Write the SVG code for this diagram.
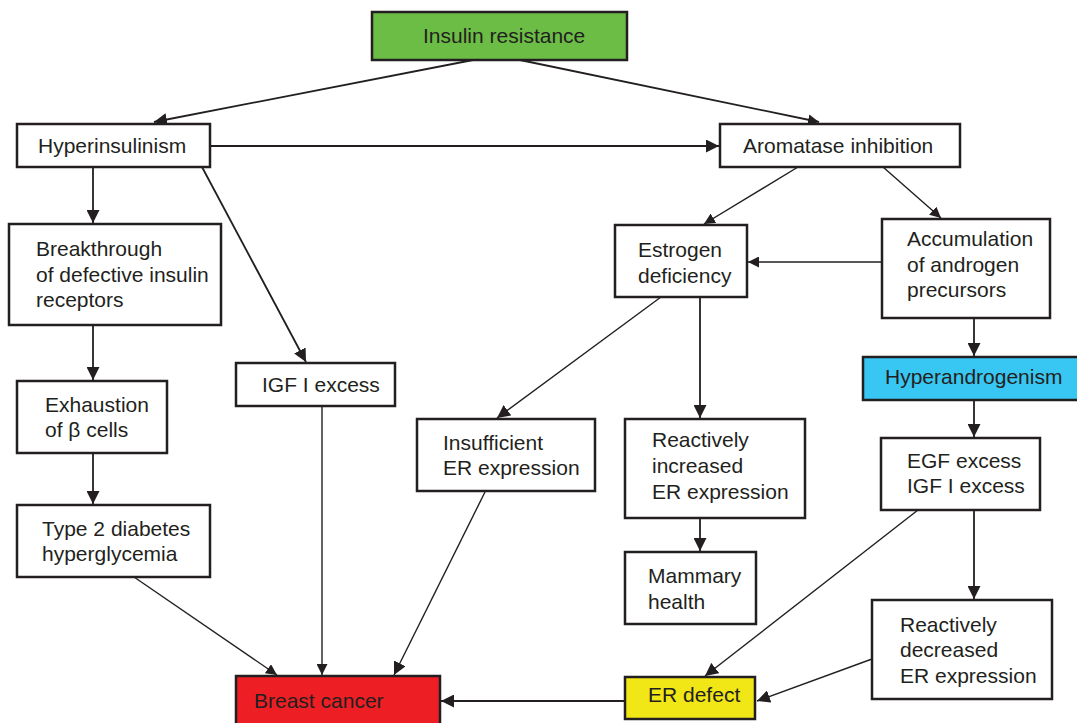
<svg xmlns="http://www.w3.org/2000/svg" width="1077" height="723" viewBox="0 0 1077 723">
<style>
.b{fill:#ffffff;stroke:#231f20;stroke-width:2.5}
.t{font-family:"Liberation Sans",Arial,sans-serif;font-size:21px;fill:#231f20}
.c{fill:none;stroke:#231f20;stroke-width:1.8}
.c2{fill:none;stroke:#231f20;stroke-width:1.4}
</style>
<defs>
<marker id="ah" markerUnits="userSpaceOnUse" markerWidth="13" markerHeight="13" refX="13" refY="6.5" orient="auto" viewBox="0 0 13 13">
<path d="M0,0 L13,6.5 L0,13 z" fill="#231f20"/>
</marker>
<marker id="as" markerUnits="userSpaceOnUse" markerWidth="11" markerHeight="11" refX="11" refY="5.5" orient="auto" viewBox="0 0 11 11">
<path d="M0,0 L11,5.5 L0,11 z" fill="#231f20"/>
</marker>
</defs>
<rect width="1077" height="723" fill="#ffffff"/>
<g id="connectors">
<line class="c" x1="473" y1="60" x2="154" y2="122" marker-end="url(#ah)"/>
<line class="c" x1="520" y1="60" x2="819" y2="122" marker-end="url(#as)"/>
<line class="c" x1="210" y1="146" x2="719" y2="146" marker-end="url(#ah)"/>
<line class="c" x1="93" y1="167" x2="93" y2="223" marker-end="url(#ah)"/>
<line class="c" x1="202" y1="167" x2="306" y2="362" marker-end="url(#ah)"/>
<line class="c2" x1="798" y1="167" x2="704" y2="224" marker-end="url(#as)"/>
<line class="c2" x1="883" y1="167" x2="941" y2="218" marker-end="url(#as)"/>
<line class="c2" x1="882" y1="262" x2="748" y2="262" marker-end="url(#as)"/>
<line class="c" x1="974" y1="318" x2="974" y2="356" marker-end="url(#ah)"/>
<line class="c" x1="93" y1="325" x2="93" y2="380" marker-end="url(#ah)"/>
<line class="c" x1="93" y1="453" x2="93" y2="504" marker-end="url(#ah)"/>
<line class="c2" x1="661" y1="297" x2="497" y2="418" marker-end="url(#ah)"/>
<line class="c" x1="700" y1="297" x2="700" y2="418" marker-end="url(#ah)"/>
<line class="c" x1="974" y1="400" x2="974" y2="437" marker-end="url(#ah)"/>
<line class="c2" x1="322" y1="406" x2="322" y2="675" marker-end="url(#as)"/>
<line class="c2" x1="485" y1="492" x2="394" y2="675" marker-end="url(#ah)"/>
<line class="c" x1="700" y1="518" x2="700" y2="551" marker-end="url(#ah)"/>
<line class="c" x1="974" y1="510" x2="974" y2="599" marker-end="url(#ah)"/>
<line class="c2" x1="918" y1="510" x2="705" y2="676" marker-end="url(#ah)"/>
<line class="c2" x1="134" y1="577" x2="277" y2="675" marker-end="url(#as)"/>
<line class="c2" x1="872" y1="659" x2="757" y2="701" marker-end="url(#ah)"/>
<line class="c" x1="625" y1="701" x2="441" y2="701" marker-end="url(#ah)"/>
</g>
<g id="insulin-resistance"><rect class="b" x="372" y="12" width="255" height="48" fill="#6cbd45" style="fill:#6cbd45"/><text class="t" x="423" y="43">Insulin resistance</text></g>
<g id="hyperinsulinism"><rect class="b" x="17" y="124" width="193" height="43"/><text class="t" x="38" y="153">Hyperinsulinism</text></g>
<g id="aromatase"><rect class="b" x="720" y="124" width="240" height="43"/><text class="t" x="743" y="153">Aromatase inhibition</text></g>
<g id="breakthrough"><rect class="b" x="9" y="224" width="212" height="101"/><text class="t" x="36" y="256">Breakthrough</text><text class="t" x="36" y="282">of defective insulin</text><text class="t" x="36" y="307">receptors</text></g>
<g id="estrogen"><rect class="b" x="615" y="225" width="132" height="72"/><text class="t" x="638" y="257">Estrogen</text><text class="t" x="638" y="283">deficiency</text></g>
<g id="accumulation"><rect class="b" x="882" y="219" width="168" height="99"/><text class="t" x="907" y="246">Accumulation</text><text class="t" x="907" y="272">of androgen</text><text class="t" x="907" y="297">precursors</text></g>
<g id="igf"><rect class="b" x="236" y="363" width="159" height="43"/><text class="t" x="262" y="392">IGF I excess</text></g>
<g id="hyperandrogenism"><rect class="b" x="863" y="357" width="216" height="43" style="fill:#38c6f2"/><text class="t" x="885" y="384">Hyperandrogenism</text></g>
<g id="exhaustion"><rect class="b" x="17" y="381" width="150" height="72"/><text class="t" x="45" y="412">Exhaustion</text><text class="t" x="45" y="437">of β cells</text></g>
<g id="insufficient"><rect class="b" x="417" y="419" width="178" height="72"/><text class="t" x="443" y="450">Insufficient</text><text class="t" x="443" y="475">ER expression</text></g>
<g id="reactively-increased"><rect class="b" x="625" y="419" width="180" height="99"/><text class="t" x="652" y="447">Reactively</text><text class="t" x="652" y="473">increased</text><text class="t" x="652" y="499">ER expression</text></g>
<g id="egf"><rect class="b" x="881" y="438" width="159" height="72"/><text class="t" x="907" y="468">EGF excess</text><text class="t" x="907" y="493">IGF I excess</text></g>
<g id="type2"><rect class="b" x="17" y="505" width="193" height="72"/><text class="t" x="42" y="536">Type 2 diabetes</text><text class="t" x="42" y="561">hyperglycemia</text></g>
<g id="mammary"><rect class="b" x="625" y="552" width="131" height="72"/><text class="t" x="648" y="583">Mammary</text><text class="t" x="648" y="609">health</text></g>
<g id="reactively-decreased"><rect class="b" x="872" y="600" width="180" height="99"/><text class="t" x="900" y="632">Reactively</text><text class="t" x="900" y="657">decreased</text><text class="t" x="900" y="683">ER expression</text></g>
<g id="breast-cancer"><rect class="b" x="236" y="676" width="204" height="52" style="fill:#ed1f24"/><text class="t" x="254" y="708">Breast cancer</text></g>
<g id="er-defect"><rect class="b" x="625" y="677" width="130" height="42" style="fill:#f1e616"/><text class="t" x="648" y="702">ER defect</text></g>
</svg>
